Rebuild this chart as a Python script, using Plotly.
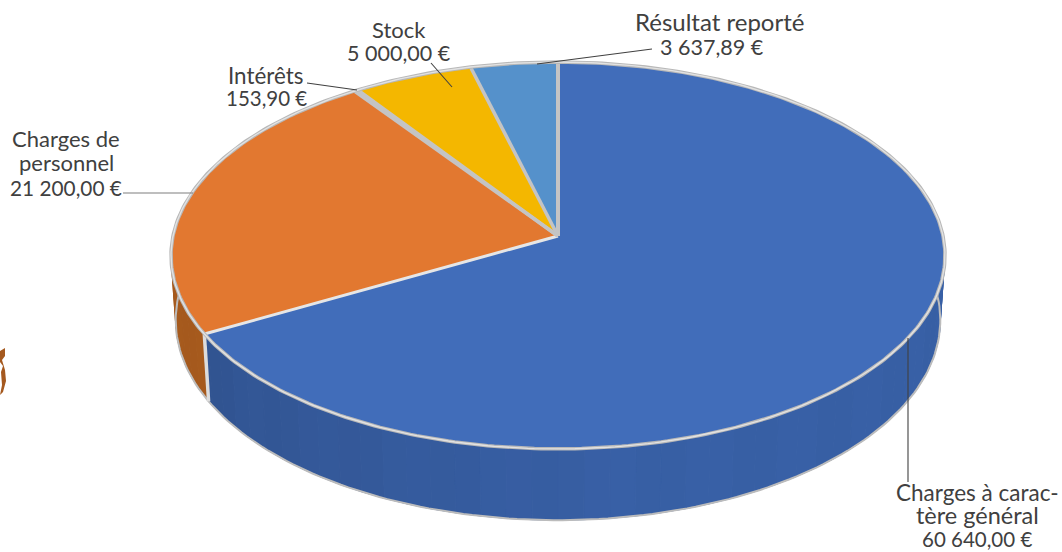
import numpy as np
import plotly.graph_objects as go

categories = ["Charges à caractère général", "Charges de personnel", "Intérêts", "Stock", "Résultat reporté"]
values = [60640.00, 21200.00, 153.90, 5000.00, 3637.89]
top_colors = ["#416dba", "#e27830", "#a5a5a5", "#f4b700", "#5591cb"]
wall_colors = ["#3860a6", "#b3611f", "#8a8a8a", "#bf9000", "#41719c"]

# one entry per printed line: text, x centre, y centre, font size
label_text = ["Résultat reporté", "3 637,89 €", "Stock", "5 000,00 €", "Intérêts", "153,90 €",
              "Charges de", "personnel", "21 200,00 €",
              "Charges à carac-", "tère général", "60 640,00 €"]
label_x = [719, 712, 399, 399, 265, 266, 66, 66, 66, 977, 977, 977]
label_y = [21, 47, 29, 53, 75, 98, 138, 162, 187, 492, 515, 539]
label_size = [24, 21.5, 22, 21.5, 22.4, 20.5, 22, 22, 20.8, 22.5, 23.5, 20.5]

# leader lines: x0, y0, x1, y1
leaders = [(537, 64, 652, 49, "#404040"), (431, 63, 452, 87, "#404040"), (307, 83, 357, 90, "#404040"),
           (123, 193, 193, 193, "#7f7f7f"), (908, 338, 908, 482, "#404040")]

# camera of the tilted disc
CX, CY = 558, 236
RX, RY = 385, 191.5
PERSP = 0.1008
DEPTH = 64
LOWER_SHRINK = 0.988

shares = np.array(values) / sum(values) * 360
stops = np.concatenate([[0], np.cumsum(shares)])


def top_point(theta):
    t = np.radians(theta)
    k = 1 + PERSP * np.cos(t)
    return CX + RX * np.sin(t) / k, CY - RY * np.cos(t) / k


def low_point(theta):
    x, y = top_point(theta)
    t = np.radians(theta)
    return CX + (x - CX) * LOWER_SHRINK, y + DEPTH / (1 + PERSP * np.cos(t))


def mix(c1, c2, a):
    p = [int(c1[i:i + 2], 16) for i in (1, 3, 5)]
    q = [int(c2[i:i + 2], 16) for i in (1, 3, 5)]
    return "rgb(%d,%d,%d)" % tuple(round(p[i] + (q[i] - p[i]) * a) for i in range(3))


fig = go.Figure()


def poly(xs, ys, fill=None, color=None, width=0):
    fig.add_trace(go.Scatter(
        x=list(xs), y=list(ys), mode="lines",
        fill="toself" if fill else None, fillcolor=fill,
        line=dict(color=color or fill, width=width),
        hoverinfo="skip", showlegend=False,
    ))


# side wall, drawn from the edges towards the front
facets = []
for i in range(len(values)):
    a = max(stops[i], 82)
    b = min(stops[i + 1], 278)
    if b <= a:
        continue
    edges = np.arange(a, b, 3.5).tolist() + [b]
    for t0, t1 in zip(edges[:-1], edges[1:]):
        facets.append((i, t0, t1))
facets.sort(key=lambda f: abs((f[1] + f[2]) / 2 - 180), reverse=True)
for i, t0, t1 in facets:
    mid = (t0 + t1) / 2
    band = int(mid // 7) % 2 * 0.02
    dark = np.clip((mid - 170) / 70, 0, 1) * 0.24 + band
    x0, y0 = top_point(t0)
    x1, y1 = top_point(t1)
    x2, y2 = low_point(t1)
    x3, y3 = low_point(t0)
    poly([x0, x1, x2, x3, x0], [y0, y1, y2, y3, y0],
         fill=mix(wall_colors[i], "#000000", dark * (0.5 if i == 0 else 0.3)), width=1)

# wall outline and the spine between the two walls
arc = np.linspace(82, 278, 160)
poly(*low_point(arc), color="#bcbcbc", width=2)
sx0, sy0 = top_point(stops[1])
sx1, sy1 = low_point(stops[1])
poly([sx0, sx1], [sy0, sy1], color="#dcdcdc", width=3.5)

# top of the disc
for i in range(len(values)):
    arc = np.linspace(stops[i], stops[i + 1], 120)
    x, y = top_point(arc)
    poly(np.r_[CX, x, CX], np.r_[CY, y, CY], fill=top_colors[i], width=0)

# spokes between slices
for i, s in enumerate(stops[1:-1]):
    x, y = top_point(s)
    poly([CX, x], [CY, y], color="#e6e6e6" if i == 0 else "#c4c4c4", width=3 if i == 0 else 3.5)
x, y = top_point(0)
poly([CX, x], [CY, y], color="#c4c4c4", width=4)

# rim
arc = np.linspace(0, 360, 400)
poly(*top_point(arc), color="#b8b8b8", width=3.5)
poly(*top_point(arc), color="#e2e2e2", width=1.4)

# leaders
for x0, y0, x1, y1, c in leaders:
    poly([x0, x1], [y0, y1], color=c, width=1.1)

for text, x, y, size in zip(label_text, label_x, label_y, label_size):
    fig.add_annotation(x=x, y=y, text=text, showarrow=False, xanchor="center", yanchor="middle",
                       font=dict(family="Lato", size=size, color="#404040"))

# scrap of a picture cut off at the left edge
fig.add_shape(type="path", line=dict(width=0), fillcolor="#a5591f", layer="above",
              path="M 0 351 L 5 348 L 5 356 L 2 360 L 5 370 L 6 381 L 3 392 L 0 395 L 2 385 L 1 372 L 3 366 L 0 362 Z")

fig.update_xaxes(range=[0, 1062], visible=False, fixedrange=True)
fig.update_yaxes(range=[552, 0], visible=False, fixedrange=True)
fig.update_layout(width=1062, height=552, margin=dict(l=0, r=0, t=0, b=0),
                  paper_bgcolor="white", plot_bgcolor="white", showlegend=False)
fig.write_html("out.html", config=dict(displayModeBar=False),
               post_script="document.body.style.margin='0';document.documentElement.style.overflow='hidden';")
